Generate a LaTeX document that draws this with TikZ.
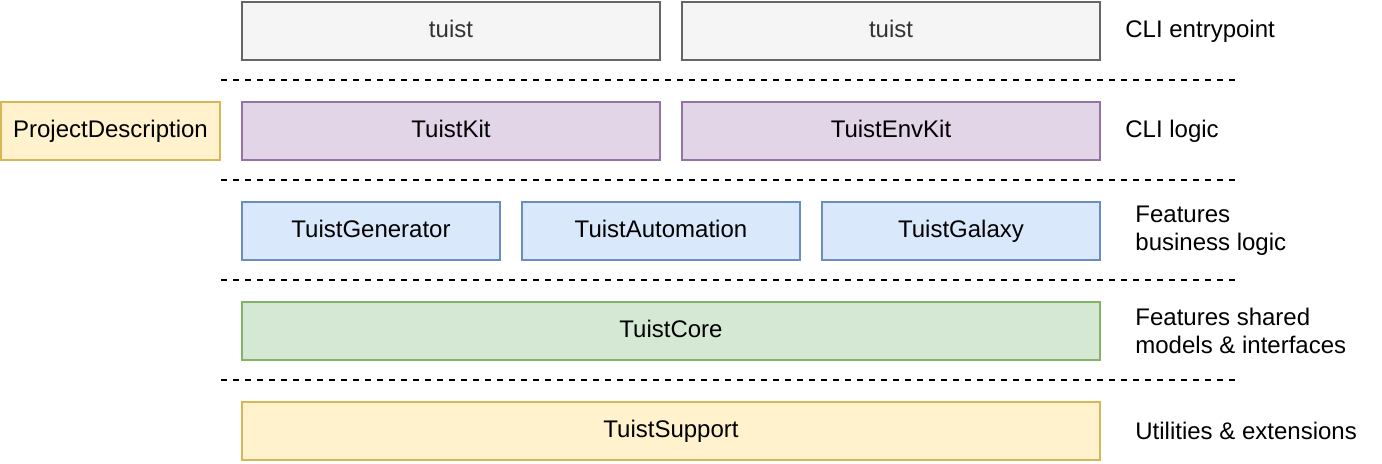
\documentclass[tikz,border=0pt]{standalone}
\usepackage{fontspec}
\setmainfont{Liberation Sans}
\definecolor{grayfill}{HTML}{F5F5F5}
\definecolor{grayline}{HTML}{666666}
\definecolor{graytext}{HTML}{333333}
\definecolor{purplefill}{HTML}{E1D5E7}
\definecolor{purpleline}{HTML}{9673A6}
\definecolor{bluefill}{HTML}{DAE8FC}
\definecolor{blueline}{HTML}{6C8EBF}
\definecolor{greenfill}{HTML}{D5E8D4}
\definecolor{greenline}{HTML}{82B366}
\definecolor{yellowfill}{HTML}{FFF2CC}
\definecolor{yellowline}{HTML}{D6B656}

\begin{document}
\begin{tikzpicture}[x=0.5pt,y=-0.5pt,
  box/.style={rectangle,draw,line width=1pt,inner sep=0pt,minimum height=29pt,text height=9pt,text depth=2pt,font=\fontsize{12}{14}\selectfont},
  entry/.style={box,fill=grayfill,draw=grayline,text=graytext,minimum width=209pt},
  logic/.style={box,fill=purplefill,draw=purpleline,minimum width=209pt},
  feature/.style={box,fill=bluefill,draw=blueline},
  shared/.style={box,fill=greenfill,draw=greenline,minimum width=429pt},
  support/.style={box,fill=yellowfill,draw=yellowline},
  layer/.style={anchor=west,align=left,inner sep=0pt,font=\fontsize{12}{14}\selectfont},
  sep/.style={dash pattern=on 3pt off 3pt,line width=1pt}]
\useasboundingbox (0,0) rectangle (1382,464);

\coordinate (A) at (451,31);
\coordinate (B) at (891,31);
\coordinate (P) at (110.5,131);
\coordinate (K) at (451,131);
\coordinate (E) at (891,131);
\coordinate (G) at (371,231);
\coordinate (M) at (661,231);
\coordinate (X) at (961,231);
\coordinate (C) at (671,331);
\coordinate (S) at (671,431);

% layer separators
\coordinate (L1) at (221,80.5);
\coordinate (R1) at (1235,80.5);
\coordinate (L2) at (221,180.5);
\coordinate (R2) at (1235,180.5);
\coordinate (L3) at (221,280.5);
\coordinate (R3) at (1235,280.5);
\coordinate (L4) at (221,380.5);
\coordinate (R4) at (1235,380.5);

\node[entry] (A1) at (A) {tuist};
\node[entry] (B1) at (B) {tuist};
\node[support,minimum width=109.5pt] (P1) at (P) {ProjectDescription};
\node[logic] (K1) at (K) {TuistKit};
\node[logic] (E1) at (E) {TuistEnvKit};
\node[feature,minimum width=129pt] (G1) at (G) {TuistGenerator};
\node[feature,minimum width=139pt] (M1) at (M) {TuistAutomation};
\node[feature,minimum width=139pt] (X1) at (X) {TuistGalaxy};
\node[shared] (C1) at (C) {TuistCore};
\node[support,minimum width=429pt] (S1) at (S) {TuistSupport};

\node[layer] (N1) at (1125,31) {CLI entrypoint};
\node[layer] (N2) at (1125,131) {CLI logic};
\node[layer] (N3) at (1135,231) {Features\\business logic};
\node[layer] (N4) at (1135,331) {Features shared\\models \& interfaces};
\node[layer] (N5) at (1135,431) {Utilities \& extensions};

\draw[sep] (L1) -- (R1);
\draw[sep] (L2) -- (R2);
\draw[sep] (L3) -- (R3);
\draw[sep] (L4) -- (R4);

\end{tikzpicture}
\end{document}
